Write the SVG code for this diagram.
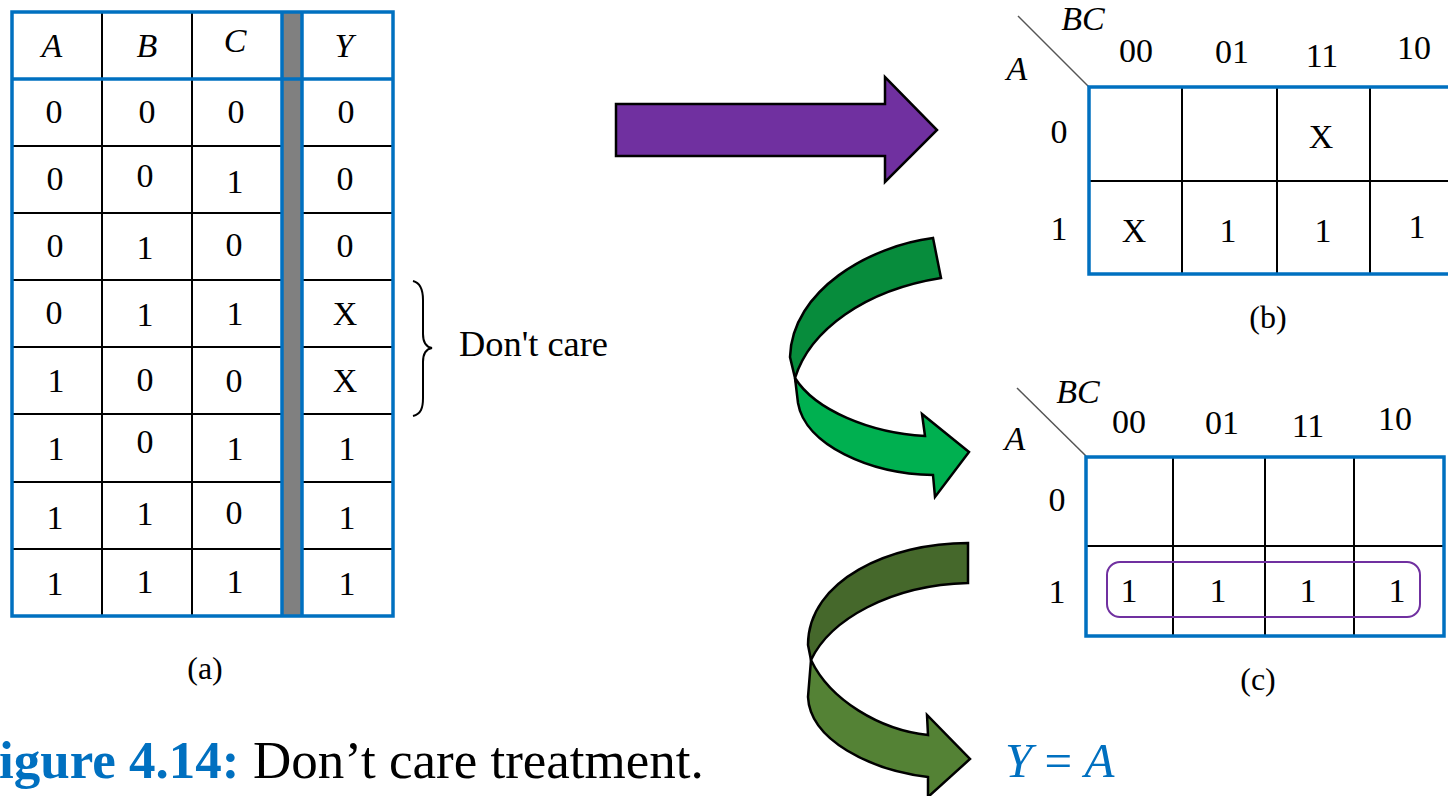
<svg xmlns="http://www.w3.org/2000/svg" width="1448" height="796" viewBox="0 0 1448 796">
<style>
text{font-family:"Liberation Serif","Times New Roman",serif;fill:#000}
.d{font-size:34px;text-anchor:middle}
.i{font-style:italic}
.lbl{font-size:32px;text-anchor:middle}
.blue{stroke:#0070C0;stroke-width:3.5;fill:none}
.thin{stroke:#000;stroke-width:2;fill:none}
.arr{stroke:#000;stroke-width:2.5;stroke-linejoin:miter}
</style>
<rect width="1448" height="796" fill="#fff"/>

<g id="truth-table">
  <rect x="283" y="12" width="18" height="604" fill="#808080"/>
  <g class="thin">
    <line x1="102" y1="12" x2="102" y2="616"/>
    <line x1="192" y1="12" x2="192" y2="616"/>
    <path d="M12 146H282M12 213H282M12 280H282M12 347H282M12 414H282M12 482H282M12 549H282"/>
    <path d="M302 146H393M302 213H393M302 280H393M302 347H393M302 414H393M302 482H393M302 549H393"/>
  </g>
  <g class="blue">
    <rect x="12" y="12" width="381" height="604"/>
    <line x1="12" y1="79" x2="393" y2="79"/>
    <line x1="282" y1="12" x2="282" y2="616"/>
    <line x1="302" y1="12" x2="302" y2="616"/>
  </g>
  <g class="d">
    <text x="52" y="57" class="i">A</text><text x="147" y="57" class="i">B</text><text x="235" y="52" class="i">C</text><text x="344" y="57" class="i">Y</text>
    <text x="54" y="123">0</text><text x="147" y="123">0</text><text x="236" y="123">0</text><text x="346" y="123">0</text>
    <text x="55" y="190">0</text><text x="145" y="187">0</text><text x="235" y="193">1</text><text x="345" y="190">0</text>
    <text x="55" y="257">0</text><text x="145" y="259">1</text><text x="234" y="256">0</text><text x="345" y="257">0</text>
    <text x="54" y="324">0</text><text x="145" y="326">1</text><text x="235" y="325">1</text><text x="345" y="325">X</text>
    <text x="56" y="392">1</text><text x="145" y="391">0</text><text x="234" y="392">0</text><text x="345" y="392">X</text>
    <text x="56" y="460">1</text><text x="145" y="453">0</text><text x="235" y="460">1</text><text x="347" y="460">1</text>
    <text x="55" y="529">1</text><text x="145" y="525">1</text><text x="234" y="524">0</text><text x="347" y="529">1</text>
    <text x="55" y="595">1</text><text x="145" y="593">1</text><text x="235" y="593">1</text><text x="347" y="595">1</text>
  </g>
  <text x="205" y="679" class="lbl">(a)</text>
</g>

<g id="dont-care">
  <path d="M413 281C421 283 423 290 423 300L423 334C423 342 426 347 432 348C426 349 423 354 423 362L423 398C423 408 421 414 413 416" fill="none" stroke="#000" stroke-width="2"/>
  <text x="459" y="356" style="font-size:35px" textLength="149" lengthAdjust="spacingAndGlyphs">Don't care</text>
</g>

<g id="kmap-b">
  <line x1="1018" y1="16" x2="1089" y2="87" stroke="#555" stroke-width="1.5"/>
  <g class="thin">
    <line x1="1089" y1="181" x2="1448" y2="181"/>
    <line x1="1182" y1="87" x2="1182" y2="274"/>
    <line x1="1277" y1="87" x2="1277" y2="274"/>
    <line x1="1370" y1="87" x2="1370" y2="274"/>
  </g>
  <rect x="1089" y="87" width="380" height="187" class="blue"/>
  <g class="d">
    <text x="1083" y="30" class="i">BC</text>
    <text x="1017" y="80" class="i">A</text>
    <text x="1136" y="62">00</text><text x="1232" y="63">01</text><text x="1322" y="67">11</text><text x="1414" y="59">10</text>
    <text x="1059" y="143">0</text><text x="1059" y="240">1</text>
    <text x="1321" y="148">X</text>
    <text x="1134" y="242">X</text><text x="1228" y="242">1</text><text x="1323" y="242">1</text><text x="1417" y="238">1</text>
  </g>
  <text x="1268" y="328" class="lbl">(b)</text>
</g>

<g id="kmap-c">
  <line x1="1017" y1="388" x2="1086" y2="456" stroke="#555" stroke-width="1.5"/>
  <g class="thin">
    <line x1="1086" y1="546" x2="1444" y2="546"/>
    <line x1="1173" y1="457" x2="1173" y2="636"/>
    <line x1="1265" y1="457" x2="1265" y2="636"/>
    <line x1="1354" y1="457" x2="1354" y2="636"/>
  </g>
  <rect x="1086" y="457" width="358" height="179" class="blue"/>
  <g class="d">
    <text x="1078" y="403" class="i">BC</text>
    <text x="1015" y="450" class="i">A</text>
    <text x="1129" y="433">00</text><text x="1222" y="434">01</text><text x="1308" y="437">11</text><text x="1395" y="430">10</text>
    <text x="1057" y="511">0</text><text x="1057" y="603">1</text>
    <text x="1129" y="602">1</text><text x="1218" y="602">1</text><text x="1308" y="602">1</text><text x="1397" y="602">1</text>
  </g>
  <rect x="1107" y="562" width="313" height="55" rx="13" fill="none" stroke="#7030A0" stroke-width="2"/>
  <text x="1258" y="690" class="lbl">(c)</text>
</g>

<g id="result">
  <text x="1005" y="777" style="font-size:49px;fill:#0070C0"><tspan class="i" style="fill:#0070C0">Y</tspan><tspan style="fill:#0070C0"> = </tspan><tspan class="i" style="fill:#0070C0">A</tspan></text>
</g>

<g id="caption">
  <text x="-1" y="778" style="font-size:53px"><tspan style="font-weight:bold;fill:#0070C0">igure 4.14:</tspan><tspan x="253">Don’t care treatment.</tspan></text>
</g>

<g id="connectors">
  <path class="arr" fill="#7030A0" d="M616 104H885V77L937 130L885 182V156H616Z"/>
  <path class="arr" fill="#078C3C" d="M933 238C870 246 792 290 790 357L795 378C810 330 865 290 941 278Z"/>
  <path class="arr" fill="#00B050" d="M795 378C815 410 870 433 925 436L922 414L969 452L935 497L933 475C870 474 805 445 798 403Z"/>
  <path class="arr" fill="#45682B" d="M968 543C890 543 808 580 808 645L811 660C830 620 890 585 968 583Z"/>
  <path class="arr" fill="#548235" d="M811 660C830 700 880 730 928 735L927 715L970 759L928 797L928 777C870 770 810 740 808 697Z"/>
</g>
</svg>
